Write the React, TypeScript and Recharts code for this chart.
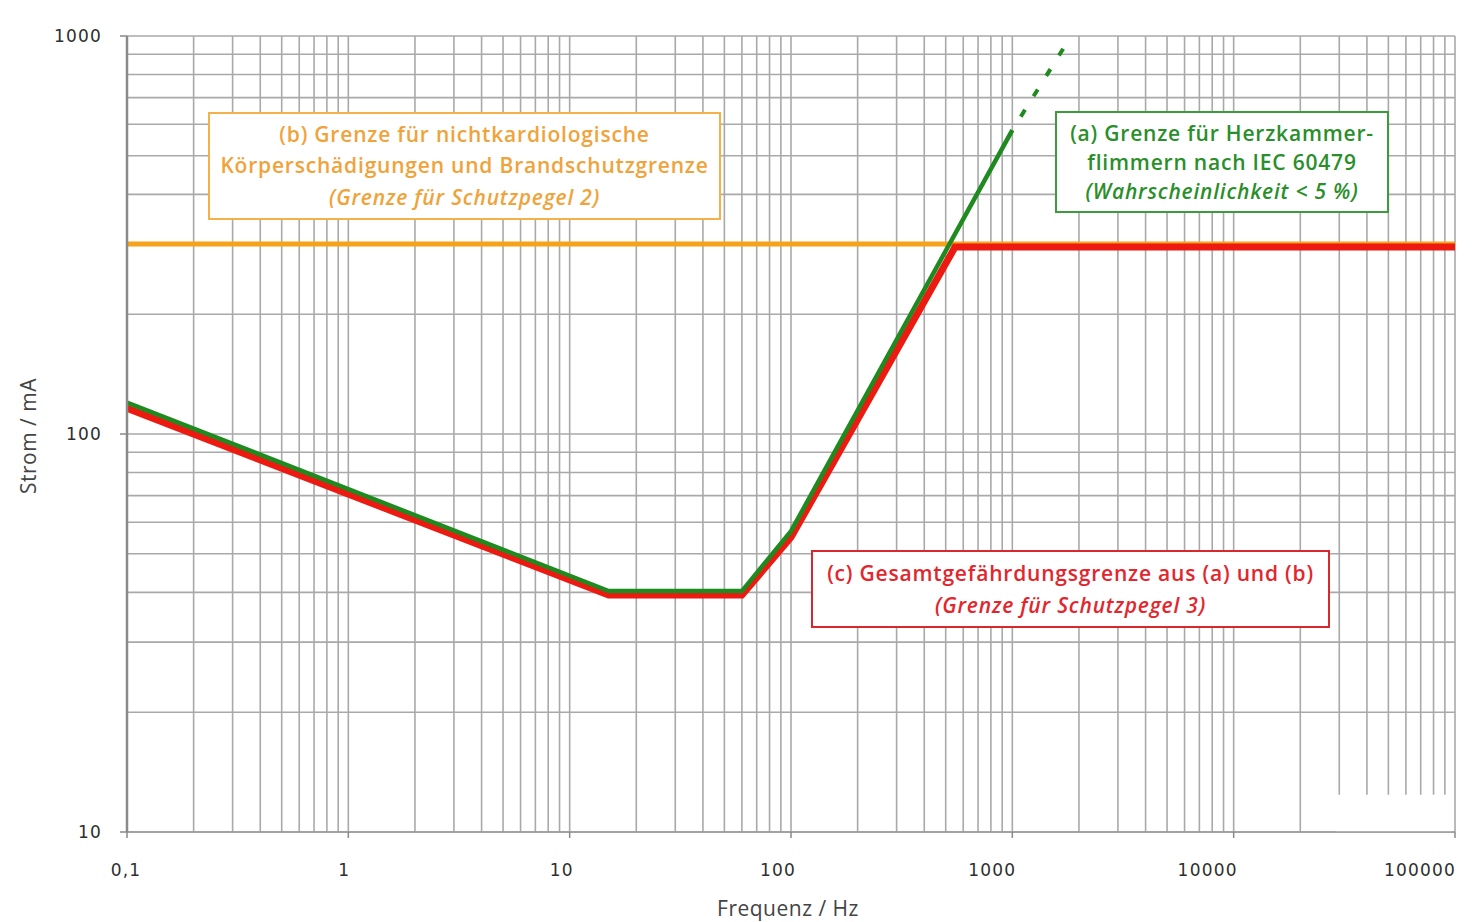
import React from 'react';
import {
  LineChart,
  Line,
  XAxis,
  YAxis,
  CartesianGrid,
  ReferenceArea
} from 'recharts';

// axis decades and their labels
const xDecades = [0.1, 1, 10, 100, 1000, 10000, 100000];
const xTickLabels = ['0,1', '1', '10', '100', '1000', '10000', '100000'];
const yDecades = [10, 100, 1000];
const yTickLabels = ['10', '100', '1000'];
const minorSteps = [1, 2, 3, 4, 5, 6, 7, 8, 9];

// (a) IEC 60479 curve, solid part and dashed continuation
const greenFreq = [0.1, 15, 60, 100, 1000];
const greenCurrent = [120, 40.3, 40.3, 57, 580];
const greenDashFreq = [1000, 1750];
const greenDashCurrent = [580, 955];

// (b) horizontal limit
const orangeFreq = [0.1, 100000];
const orangeCurrent = [300, 300];

// (c) combined limit
const redFreq = [0.1, 15, 60, 100, 551, 100000];
const redCurrent = [116, 39.4, 39.4, 55, 295, 295];

const toPoints = (f: number[], i: number[]) => f.map((v, k) => ({ f: v, i: i[k] }));

const buildTicks = (decades: number[]) => {
  const out: number[] = [];
  decades.slice(0, -1).forEach(d => minorSteps.forEach(m => out.push(d * m)));
  out.push(decades[decades.length - 1]);
  return out;
};

const xTicks = buildTicks(xDecades);
const yTicks = buildTicks(yDecades);

const findDecade = (list: number[], v: number) =>
  list.findIndex(d => Math.abs(d - v) < d * 1e-6);

const tickFont = {
  fontFamily: '"DejaVu Sans", sans-serif',
  fontSize: 17,
  letterSpacing: 1.2,
  fill: '#2e2e2e'
};

// labels in the original drift a little left of their ticks
const xLabelShift = [-1, -4, -8, -13, -20, -26, -35];

const XTick = (props: any) => {
  const { x, y, payload } = props;
  const idx = findDecade(xDecades, payload.value);
  if (idx < 0) return <g />;
  return (
    <g>
      <line x1={x} y1={y} x2={x} y2={y + 6} stroke="#888" strokeWidth={1.5} />
      <text x={x + xLabelShift[idx]} y={y + 44} textAnchor="middle" style={tickFont}>
        {xTickLabels[idx]}
      </text>
    </g>
  );
};

const YTick = (props: any) => {
  const { x, y, payload } = props;
  const idx = findDecade(yDecades, payload.value);
  if (idx < 0) return <g />;
  return (
    <g>
      <line x1={x - 7} y1={y} x2={x} y2={y} stroke="#888" strokeWidth={1.5} />
      <text x={x - 25} y={y + 6} textAnchor="end" style={tickFont}>
        {yTickLabels[idx]}
      </text>
    </g>
  );
};

const boxFont = '"Open Sans", sans-serif';

const boxStyle = (color: string, left: number, top: number, width: number, height: number, lineHeight: number) => ({
  position: 'absolute' as const,
  left,
  top,
  width,
  height,
  boxSizing: 'border-box' as const,
  border: `2px solid ${color}`,
  background: '#fff',
  display: 'flex',
  flexDirection: 'column' as const,
  justifyContent: 'center',
  alignItems: 'center',
  fontFamily: boxFont,
  fontWeight: 600,
  fontSize: 21,
  letterSpacing: 0.8,
  whiteSpace: 'nowrap' as const,
  lineHeight: `${lineHeight}px`,
  textAlign: 'center' as const
});

const titleStyle = {
  position: 'absolute' as const,
  whiteSpace: 'nowrap' as const,
  fontFamily: boxFont,
  fontSize: 21,
  letterSpacing: 0.5,
  color: '#444'
};

export default function App() {
  return (
    <div style={{ position: 'relative', width: 1470, height: 914, background: '#fff' }}>
      <LineChart
        width={1470}
        height={914}
        margin={{ top: 28, right: 23, bottom: 0, left: 0 }}
      >
        <CartesianGrid stroke="#a9a9a9" strokeWidth={1.6} />
        <XAxis
          dataKey="f"
          type="number"
          scale="log"
          domain={[0.1, 100000]}
          ticks={xTicks}
          interval={0}
          allowDataOverflow
          height={90}
          tickSize={0}
          tickMargin={0}
          tickLine={false}
          axisLine={{ stroke: '#999', strokeWidth: 1.5 }}
          tick={<XTick />}
        />
        <YAxis
          dataKey="i"
          type="number"
          scale="log"
          domain={[10, 1000]}
          ticks={yTicks}
          interval={0}
          allowDataOverflow
          width={119}
          tickSize={0}
          tickMargin={0}
          tickLine={false}
          axisLine={{ stroke: '#8a8a8a', strokeWidth: 2.5 }}
          tick={<YTick />}
        />
        <ReferenceArea
          x1={29000}
          x2={97000}
          y1={10}
          y2={12.4}
          fill="#fff"
          fillOpacity={1}
          stroke="none"
          ifOverflow="visible"
        />
        <Line
          data={toPoints(orangeFreq, orangeCurrent)}
          dataKey="i"
          stroke="#f7a21b"
          strokeWidth={5}
          dot={false}
          isAnimationActive={false}
        />
        <Line
          data={toPoints(redFreq, redCurrent)}
          dataKey="i"
          stroke="#ec1a10"
          strokeWidth={7}
          strokeLinejoin="miter"
          dot={false}
          isAnimationActive={false}
        />
        <Line
          data={toPoints(greenFreq, greenCurrent)}
          dataKey="i"
          stroke="#1f8a1f"
          strokeWidth={4.5}
          strokeLinejoin="miter"
          dot={false}
          isAnimationActive={false}
        />
        <Line
          data={toPoints(greenDashFreq, greenDashCurrent)}
          dataKey="i"
          stroke="#1f8a1f"
          strokeWidth={4}
          strokeDasharray="8 16"
          strokeDashoffset={8}
          dot={false}
          isAnimationActive={false}
        />
      </LineChart>

      {/* axis titles */}
      <div style={{ ...titleStyle, left: 20, top: 428, transform: 'translate(-50%, -50%) rotate(-90deg)' }}>
        Strom / mA
      </div>
      <div style={{ ...titleStyle, left: 780, top: 900, transform: 'translate(-50%, -50%)' }}>
        Frequenz / Hz
      </div>

      {/* annotation boxes */}
      <div style={{ ...boxStyle('#f5b04a', 200, 104, 513, 108, 31.5), color: '#f0a33a' }}>
        <div>(b) Grenze für nichtkardiologische</div>
        <div>Körperschädigungen und Brandschutzgrenze</div>
        <div style={{ fontStyle: 'italic' }}>(Grenze für Schutzpegel 2)</div>
      </div>
      <div style={{ ...boxStyle('#3d9a3d', 1047, 103, 334, 102, 29), color: '#2a8f2a' }}>
        <div>(a) Grenze für Herzkammer-</div>
        <div>flimmern nach IEC 60479</div>
        <div style={{ fontStyle: 'italic' }}>(Wahrscheinlichkeit &lt; 5 %)</div>
      </div>
      <div style={{ ...boxStyle('#d8282e', 803, 542, 519, 78, 32), color: '#e3262d' }}>
        <div>(c) Gesamtgefährdungsgrenze aus (a) und (b)</div>
        <div style={{ fontStyle: 'italic' }}>(Grenze für Schutzpegel 3)</div>
      </div>
    </div>
  );
}
